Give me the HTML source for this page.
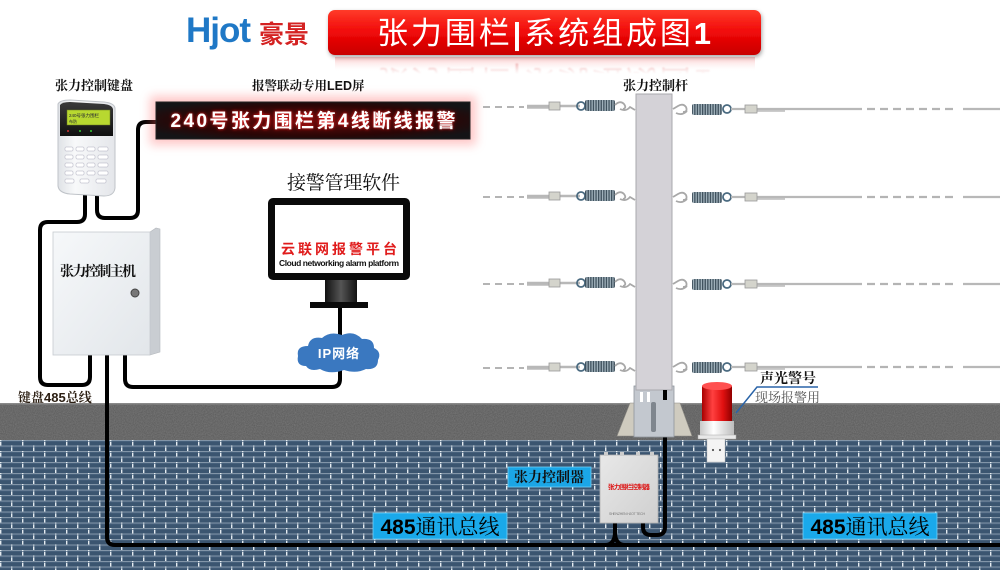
<!DOCTYPE html>
<html><head><meta charset="utf-8"><style>
html,body{margin:0;padding:0;background:#fff;}
svg{display:block;}
.sf{font-family:"Liberation Serif","Noto Serif CJK SC",serif;}
.ss{font-family:"Liberation Sans","Noto Sans CJK SC",sans-serif;}
</style></head><body>
<svg width="1000" height="570" viewBox="0 0 1000 570" xmlns="http://www.w3.org/2000/svg">
<defs>
  <linearGradient id="ban" x1="0" y1="0" x2="0" y2="1">
    <stop offset="0" stop-color="#ff3b2a"/><stop offset="0.5" stop-color="#f00808"/><stop offset="1" stop-color="#c80000"/>
  </linearGradient>
  <linearGradient id="refl" x1="0" y1="0" x2="0" y2="1">
    <stop offset="0" stop-color="#f04040" stop-opacity="0.3"/><stop offset="1" stop-color="#ffffff" stop-opacity="0"/>
  </linearGradient>
  <linearGradient id="fadeM" x1="0" y1="0" x2="0" y2="1">
    <stop offset="0" stop-color="#fff" stop-opacity="0.75"/><stop offset="1" stop-color="#fff" stop-opacity="0"/>
  </linearGradient>
  <mask id="rmask"><rect x="330" y="56" width="430" height="18" fill="url(#fadeM)"/></mask>
  <radialGradient id="led" cx="0.5" cy="0.5" r="0.6">
    <stop offset="0" stop-color="#6a0a0a"/><stop offset="0.7" stop-color="#2a0606"/><stop offset="1" stop-color="#141416"/>
  </radialGradient>
  <filter id="glow" x="-10%" y="-60%" width="120%" height="220%">
    <feGaussianBlur stdDeviation="5"/>
  </filter>
  <filter id="tglow" x="-5%" y="-30%" width="110%" height="160%">
    <feGaussianBlur stdDeviation="1.5" result="b"/>
    <feFlood flood-color="#ff2020"/><feComposite in2="b" operator="in" result="c"/>
    <feMerge><feMergeNode in="c"/><feMergeNode in="SourceGraphic"/></feMerge>
  </filter>
  <filter id="shd" x="-5%" y="-20%" width="110%" height="160%">
    <feDropShadow dx="1" dy="2" stdDeviation="2" flood-color="#000" flood-opacity="0.35"/>
  </filter>
  <filter id="blur1"><feGaussianBlur stdDeviation="0.7"/></filter>
  <linearGradient id="boxf" x1="0" y1="0" x2="1" y2="1">
    <stop offset="0" stop-color="#f6f8fa"/><stop offset="1" stop-color="#e2e6ea"/>
  </linearGradient>
  <linearGradient id="neck" x1="0" y1="0" x2="1" y2="0">
    <stop offset="0" stop-color="#111"/><stop offset="0.5" stop-color="#555"/><stop offset="1" stop-color="#111"/>
  </linearGradient>
  <linearGradient id="kpTop" x1="0" y1="0" x2="0" y2="1">
    <stop offset="0" stop-color="#3a3a3a"/><stop offset="1" stop-color="#101010"/>
  </linearGradient>
  <linearGradient id="kpBody" x1="0" y1="0" x2="1" y2="0">
    <stop offset="0" stop-color="#dfe2e6"/><stop offset="0.3" stop-color="#f8f9fa"/><stop offset="1" stop-color="#e4e6ea"/>
  </linearGradient>
  <linearGradient id="red" x1="0" y1="0" x2="1" y2="0">
    <stop offset="0" stop-color="#a80000"/><stop offset="0.35" stop-color="#ff4040"/><stop offset="0.7" stop-color="#e01010"/><stop offset="1" stop-color="#900000"/>
  </linearGradient>
  <linearGradient id="wht" x1="0" y1="0" x2="1" y2="0">
    <stop offset="0" stop-color="#c8c8c8"/><stop offset="0.4" stop-color="#ffffff"/><stop offset="1" stop-color="#bcbcbc"/>
  </linearGradient>
  <linearGradient id="ctrl" x1="0" y1="0" x2="1" y2="1">
    <stop offset="0" stop-color="#e8e8e8"/><stop offset="1" stop-color="#cfcfcf"/>
  </linearGradient>
  <pattern id="coil" width="2.6" height="12" patternUnits="userSpaceOnUse">
    <rect width="2.6" height="12" fill="#9fb0ba"/><rect width="1.3" height="12" fill="#40525e"/>
  </pattern>
  <pattern id="brick" x="0" y="440" width="44" height="11" patternUnits="userSpaceOnUse">
    <rect width="44" height="11" fill="#3b5570"/>
    <rect y="0" width="44" height="1" fill="#8295a8"/>
    <rect y="5.5" width="44" height="1" fill="#8295a8"/>
    <rect x="0" y="0" width="1.4" height="5.5" fill="#e4ebf0"/>
    <rect x="22" y="0" width="1.4" height="5.5" fill="#e4ebf0"/>
    <rect x="11" y="5.5" width="1.4" height="5.5" fill="#e4ebf0"/>
    <rect x="33" y="5.5" width="1.4" height="5.5" fill="#e4ebf0"/>
    <rect y="1" width="44" height="1" fill="#4a6580" opacity="0.7"/>
    <rect y="6.5" width="44" height="1" fill="#4a6580" opacity="0.7"/>
  </pattern>
  <filter id="noise" x="0" y="0" width="100%" height="100%">
    <feTurbulence type="fractalNoise" baseFrequency="0.9" numOctaves="2" seed="3"/>
    <feColorMatrix values="0 0 0 0 0.45  0 0 0 0 0.45  0 0 0 0 0.45  0 0 0 0.7 0"/>
  </filter>

  <g id="wl">
    <line x1="483" y1="1" x2="524" y2="1" stroke="#b4b4b4" stroke-width="2" stroke-dasharray="7 5"/>
    <line x1="527" y1="0" x2="580" y2="0" stroke="#b8b8b8" stroke-width="2.5"/>
    <line x1="527" y1="2" x2="560" y2="2" stroke="#9a9a9a" stroke-width="1"/>
    <rect x="549" y="-4" width="11" height="8" fill="#d4d4cc" stroke="#999" stroke-width="0.8"/>
    <circle cx="581" cy="0" r="4" fill="none" stroke="#4a6a80" stroke-width="1.8"/>
    <rect x="585" y="-6" width="30" height="11" rx="2" fill="url(#coil)"/>
    <path d="M615,-1 q5,-5 9,-1 q3,4 -1,5 M620,3 q6,3 10,-2 l5,3" fill="none" stroke="#a8a8a8" stroke-width="1.8"/>
  </g>
  <g id="wr">
    <path d="M673,0 l5,-3 q5,-3 8,1 q2,5 -3,5 M676,4 q6,3 11,-2" fill="none" stroke="#a8a8a8" stroke-width="1.8"/>
    <rect x="692" y="-5" width="30" height="11" rx="2" fill="url(#coil)"/>
    <circle cx="727" cy="0" r="4" fill="none" stroke="#4a6a80" stroke-width="1.8"/>
    <line x1="731" y1="0" x2="862" y2="0" stroke="#b8b8b8" stroke-width="2.2"/>
    <line x1="745" y1="2" x2="785" y2="2" stroke="#9a9a9a" stroke-width="1"/>
    <rect x="745" y="-4" width="12" height="8" fill="#d4d4cc" stroke="#999" stroke-width="0.8"/>
    <line x1="867" y1="0" x2="956" y2="0" stroke="#b4b4b4" stroke-width="2.2" stroke-dasharray="8 5"/>
    <line x1="963" y1="0" x2="1000" y2="0" stroke="#b8b8b8" stroke-width="2.2"/>
  </g>
</defs>

<!-- ground -->
<rect x="0" y="403" width="1000" height="37" fill="#585858"/>
<rect x="0" y="403" width="1000" height="37" filter="url(#noise)" opacity="0.55"/>
<rect x="0" y="403" width="1000" height="1.5" fill="#8a8a8a"/>
<rect x="0" y="440" width="1000" height="130" fill="url(#brick)"/>

<!-- header -->
<text x="186" y="42" class="ss" font-size="35" font-weight="bold" fill="#1f78c6" letter-spacing="-1">Hjot</text>
<text x="259" y="43" class="ss" font-size="25" font-weight="bold" fill="#d42222">豪景</text>
<rect x="335" y="57" width="420" height="15" fill="url(#refl)"/>
<g mask="url(#rmask)">
  <text x="544" y="44" text-anchor="middle" class="ss" font-size="31" fill="#e07070" textLength="334" transform="matrix(1,0,0,-1,0,114)" filter="url(#blur1)">张力围栏|系统组成图1</text>
</g>
<rect x="328" y="10" width="433" height="45" rx="7" fill="url(#ban)" filter="url(#shd)"/>
<text x="544" y="44" text-anchor="middle" class="ss" font-size="31" fill="#fff" textLength="334"><tspan>张力围栏</tspan><tspan font-weight="bold">|</tspan><tspan>系统组成图</tspan><tspan font-weight="bold">1</tspan></text>

<!-- labels top -->
<text x="55" y="90" class="sf" font-size="13" font-weight="bold" fill="#111">张力控制键盘</text>
<text x="252" y="90" class="sf" font-size="12.5" font-weight="bold" fill="#111">报警联动专用<tspan class="ss">LED</tspan>屏</text>
<text x="623" y="90" class="sf" font-size="13" font-weight="bold" fill="#111">张力控制杆</text>
<text x="287" y="189" class="sf" font-size="19" fill="#111" textLength="113">接警管理软件</text>

<!-- cables -->
<g fill="none" stroke="#000" stroke-width="4" stroke-linejoin="round">
  <path d="M85,192 V214 Q85,222 77,222 H48 Q40,222 40,230 V377 Q40,385 48,385 H82 Q90,385 90,377 V352"/>
  <path d="M97,192 V210 Q97,218 105,218 H130 Q138,218 138,210 V130 Q138,122 146,122 H158"/>
  <path d="M107,352 V537 Q107,545 115,545 H1000"/>
  <path d="M125,352 V379 Q125,387 133,387 H332 Q340,387 340,379 V368"/>
  <path d="M340,306 V336"/>
  <path d="M615,520 V532 Q615,545 605,545 M615,532 Q615,545 625,545"/>
  <path d="M643,520 V527 Q643,535 651,535 H657 Q665,535 665,527 V386"/>
</g>

<!-- LED screen -->
<rect x="150" y="96" width="326" height="49" fill="#ff6060" opacity="0.35" filter="url(#glow)"/>
<rect x="156" y="102" width="314" height="37" fill="url(#led)" stroke="#222" stroke-width="1"/>
<text x="313" y="127" text-anchor="middle" class="ss" font-size="19" font-weight="bold" fill="#fff" textLength="285" filter="url(#tglow)">240号张力围栏第4线断线报警</text>

<!-- keypad -->
<path d="M58,104 Q60,100 70,100 L104,102 Q114,103 115,108 L115,188 Q114,196 104,196 L70,194 Q59,193 58,186 Z" fill="url(#kpBody)" stroke="#bfc3c8" stroke-width="1"/>
<path d="M60,105 Q62,102 70,102 L104,104 Q113,105 113,110 L113,136 L60,136 Z" fill="url(#kpTop)"/>
<rect x="67" y="110" width="43" height="15" fill="#b8d830" stroke="#6a7a20" stroke-width="0.5"/>
<text x="69" y="117" class="ss" font-size="4.5" fill="#223">240号张力围栏</text>
<text x="69" y="123" class="ss" font-size="4" fill="#223">布防</text>
<circle cx="68" cy="131" r="1" fill="#c33"/><circle cx="80" cy="131" r="1" fill="#3c3"/><circle cx="91" cy="131" r="1" fill="#3c3"/>
<g fill="#fff" stroke="#aab" stroke-width="0.5">
  <rect x="65" y="147" width="8" height="4" rx="1"/><rect x="76" y="147" width="8" height="4" rx="1"/><rect x="87" y="147" width="8" height="4" rx="1"/><rect x="98" y="147" width="10" height="4" rx="1"/>
  <rect x="65" y="155" width="8" height="4" rx="1"/><rect x="76" y="155" width="8" height="4" rx="1"/><rect x="87" y="155" width="8" height="4" rx="1"/><rect x="98" y="155" width="10" height="4" rx="1"/>
  <rect x="65" y="163" width="8" height="4" rx="1"/><rect x="76" y="163" width="8" height="4" rx="1"/><rect x="87" y="163" width="8" height="4" rx="1"/><rect x="98" y="163" width="10" height="4" rx="1"/>
  <rect x="65" y="171" width="8" height="4" rx="1"/><rect x="76" y="171" width="8" height="4" rx="1"/><rect x="87" y="171" width="8" height="4" rx="1"/><rect x="98" y="171" width="10" height="4" rx="1"/>
  <rect x="65" y="179" width="9" height="4" rx="1"/><rect x="80" y="179" width="9" height="4" rx="1"/><rect x="96" y="179" width="10" height="4" rx="1"/>
</g>

<!-- main box -->
<path d="M150,232 L156,228 L160,229 L160,352 L150,355 Z" fill="#c9cdd2" stroke="#b5b9be" stroke-width="0.6"/>
<rect x="53" y="232" width="97" height="123" fill="url(#boxf)" stroke="#c6cacf" stroke-width="0.8"/>
<text x="98" y="276" text-anchor="middle" class="sf" font-size="14" font-weight="bold" fill="#111" textLength="76">张力控制主机</text>
<circle cx="135" cy="293" r="4" fill="#777" stroke="#444" stroke-width="1"/>

<!-- monitor -->
<rect x="268" y="198" width="142" height="82" rx="5" fill="#0a0a0a"/>
<rect x="275" y="205" width="128" height="68" fill="#fff"/>
<text x="339" y="254" text-anchor="middle" class="ss" font-size="14" font-weight="bold" fill="#e01b1b" textLength="116">云联网报警平台</text>
<text x="339" y="266" text-anchor="middle" class="ss" font-size="8.5" font-weight="bold" fill="#111" textLength="120">Cloud networking alarm platform</text>
<rect x="325" y="280" width="32" height="22" fill="url(#neck)"/>
<rect x="310" y="302" width="58" height="6" fill="#0a0a0a"/>

<!-- cloud -->
<path d="M306,366 Q296,366 298,356 Q296,346 308,346 Q310,336 322,338 Q330,331 342,335 Q354,330 362,339 Q374,338 374,348 Q382,352 378,360 Q378,370 366,369 Q356,374 344,370 Q330,375 320,369 Q310,372 306,366 Z" fill="#3a78c0"/>
<text x="339" y="358" text-anchor="middle" class="ss" font-size="13" font-weight="bold" fill="#fff" letter-spacing="1">IP网络</text>

<text x="18" y="402" class="sf" font-size="13" font-weight="bold" fill="#2b1e12">键盘<tspan class="ss">485</tspan>总线</text>

<!-- fence wires -->
<use href="#wl" transform="translate(0,106)"/>
<use href="#wl" transform="translate(0,196)"/>
<use href="#wl" transform="translate(0,283)"/>
<use href="#wl" transform="translate(0,367)"/>
<use href="#wr" transform="translate(0,109)"/>
<use href="#wr" transform="translate(0,197)"/>
<use href="#wr" transform="translate(0,284)"/>
<use href="#wr" transform="translate(0,367)"/>

<!-- pole -->
<polygon points="617,436 636,436 636,403 630,403" fill="#cfcbbf" stroke="#8c8a84" stroke-width="0.6"/>
<polygon points="673,436 692,436 680,403 673,403" fill="#cfcbbf" stroke="#8c8a84" stroke-width="0.6"/>
<rect x="634" y="386" width="40" height="51" fill="#c3c8cf" stroke="#8e949c" stroke-width="0.8"/>
<rect x="640" y="392" width="3" height="10" fill="#fff"/><rect x="647" y="392" width="3" height="10" fill="#fff"/>
<rect x="651" y="402" width="5" height="30" rx="2" fill="#7f868e"/>
<rect x="636" y="94" width="36" height="296" fill="#d4d2d7" stroke="#a9a8ad" stroke-width="1"/>
<path d="M665,390 V400" stroke="#000" stroke-width="4"/>

<!-- alarm light -->
<rect x="702" y="386" width="30" height="36" fill="url(#red)"/>
<ellipse cx="717" cy="386" rx="15" ry="4" fill="#ff5050"/>
<rect x="700" y="421" width="34" height="16" fill="url(#wht)"/>
<rect x="698" y="435" width="38" height="4" fill="#e8e8e8" stroke="#aaa" stroke-width="0.5"/>
<rect x="707" y="439" width="18" height="23" fill="#f4f4f4" stroke="#bbb" stroke-width="0.5"/>
<circle cx="713" cy="450" r="1.1" fill="#555"/><circle cx="720" cy="450" r="1.1" fill="#555"/>
<path d="M736,413 L757,387 H818" fill="none" stroke="#2a64a8" stroke-width="1.5"/>
<text x="760" y="383" class="sf" font-size="14" font-weight="bold" fill="#111">声光警号</text>
<text x="755" y="402" class="sf" font-size="13" fill="#555">现场报警用</text>

<!-- controller -->
<rect x="600" y="455" width="58" height="68" fill="url(#ctrl)" stroke="#b0b0b0" stroke-width="0.8"/>
<rect x="604" y="452" width="4" height="4" fill="#ccc"/><rect x="620" y="452" width="4" height="4" fill="#ccc"/><rect x="636" y="452" width="4" height="4" fill="#ccc"/><rect x="650" y="452" width="4" height="4" fill="#ccc"/>
<text x="629" y="489" text-anchor="middle" class="ss" font-size="6.5" font-weight="bold" fill="#d11" textLength="42">张力围栏控制器</text>
<text x="627" y="515" text-anchor="middle" class="ss" font-size="3.5" fill="#777" textLength="36">SHENZHEN HJOT TECH</text>

<!-- blue labels -->
<rect x="508" y="467" width="83" height="20" fill="#1ba6e6" stroke="#6fd0f8" stroke-width="0.8"/>
<text x="549" y="482" text-anchor="middle" class="sf" font-size="14" font-weight="bold" fill="#111">张力控制器</text>
<rect x="373" y="513" width="134" height="26" fill="#1aa9ea" stroke="#6fd0f8" stroke-width="0.8"/>
<text x="440" y="534" text-anchor="middle" class="sf" font-size="21" fill="#000"><tspan class="ss" font-weight="bold">485</tspan>通讯总线</text>
<rect x="803" y="513" width="134" height="26" fill="#1aa9ea" stroke="#6fd0f8" stroke-width="0.8"/>
<text x="870" y="534" text-anchor="middle" class="sf" font-size="21" fill="#000"><tspan class="ss" font-weight="bold">485</tspan>通讯总线</text>
</svg>
</body></html>
